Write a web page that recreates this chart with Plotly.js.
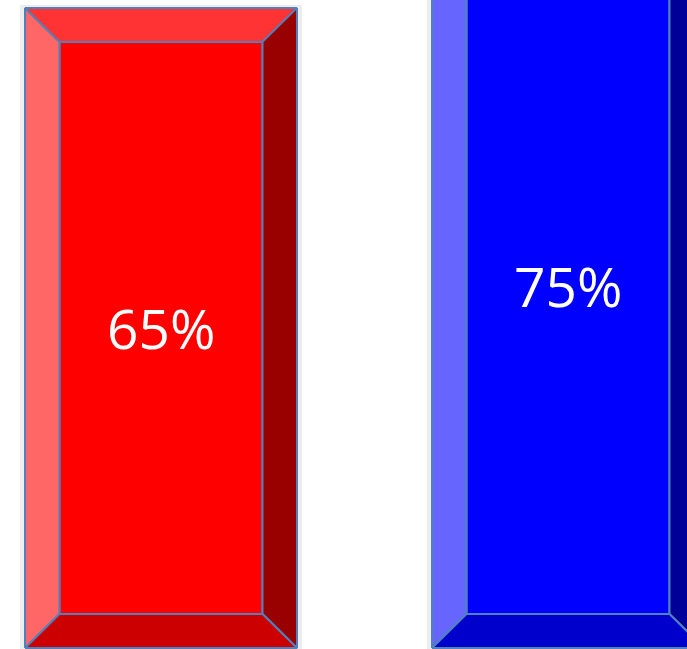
<!DOCTYPE html>
<html><head><meta charset="utf-8">
<script src="https://cdn.plot.ly/plotly-3.0.1.min.js"></script>
<style>html,body{margin:0;padding:0;background:#fff;overflow:hidden}#chart{width:687px;height:649px}</style>
</head><body><div id="chart"></div>
<script>
// ---- data ----
const categories = ['Series A', 'Series B'];
const values = [65, 75];
const labels = ['65%', '75%'];
const faceColors = ['#FF0000', '#0000FF'];
const leftColors = ['#FF6666', '#6666FF'];
const topColors = ['#FF3333', '#3333FF'];
const rightColors = ['#990000', '#000099'];
const bottomColors = ['#CC0000', '#0000CC'];

// ---- layout constants ----
const xRange = [-0.3956, 1.2924];
const yBase = -11.2;
const yRange = [-11.32, 65.94];
const pxX = 687 / (xRange[1] - xRange[0]);
const pxY = 649 / (yRange[1] - yRange[0]);
const halfW = 136 / pxX;
const bx = 34.5 / pxX;
const by = 34 / pxY;
const edge = '#4F81BD';

const traces = [];
function poly(xs, ys, fill, lw) {
  traces.push({
    type: 'scatter', mode: 'lines', fill: 'toself',
    x: xs.concat([xs[0]]), y: ys.concat([ys[0]]),
    fillcolor: fill,
    line: {color: lw ? edge : 'rgba(0,0,0,0)', width: lw || 0},
    hoverinfo: 'skip', showlegend: false
  });
}

categories.forEach((c, i) => {
  const x0 = i - halfW, x1 = i + halfW;
  const y0 = yBase, y1 = values[i];
  // soft shadow
  const sx = 5 / pxX, sy = 3 / pxY;
  poly([x0 - sx, x1 + sx, x1 + sx, x0 - sx], [y0 - sy, y0 - sy, y1 + sy, y1 + sy], 'rgba(0,0,0,0.07)', 0);
  // face
  poly([x0 + bx, x1 - bx, x1 - bx, x0 + bx], [y0 + by, y0 + by, y1 - by, y1 - by], faceColors[i], 2);
  // left
  poly([x0, x0, x0 + bx, x0 + bx], [y0, y1, y1 - by, y0 + by], leftColors[i], 2);
  // top
  poly([x0, x1, x1 - bx, x0 + bx], [y1, y1, y1 - by, y1 - by], topColors[i], 2);
  // right
  poly([x1, x1, x1 - bx, x1 - bx], [y1, y0, y0 + by, y1 - by], rightColors[i], 2);
  // bottom
  poly([x0, x1, x1 - bx, x0 + bx], [y0, y0, y0 + by, y0 + by], bottomColors[i], 2);
});

const annotations = categories.map((c, i) => ({
  x: i, y: (yBase + values[i]) / 2, xref: 'x', yref: 'y',
  text: labels[i], showarrow: false,
  font: {family: 'Open Sans, Noto Sans, sans-serif', size: 55, color: '#FFFFFF'}
}));

const layout = {
  width: 687, height: 649,
  margin: {l: 0, r: 0, t: 0, b: 0, pad: 0},
  paper_bgcolor: '#FFFFFF', plot_bgcolor: '#FFFFFF',
  xaxis: {range: xRange, visible: false, fixedrange: true},
  yaxis: {range: yRange, visible: false, fixedrange: true},
  showlegend: false,
  annotations: annotations
};

Plotly.newPlot('chart', traces, layout, {displayModeBar: false, staticPlot: true});
</script>
</body></html>
